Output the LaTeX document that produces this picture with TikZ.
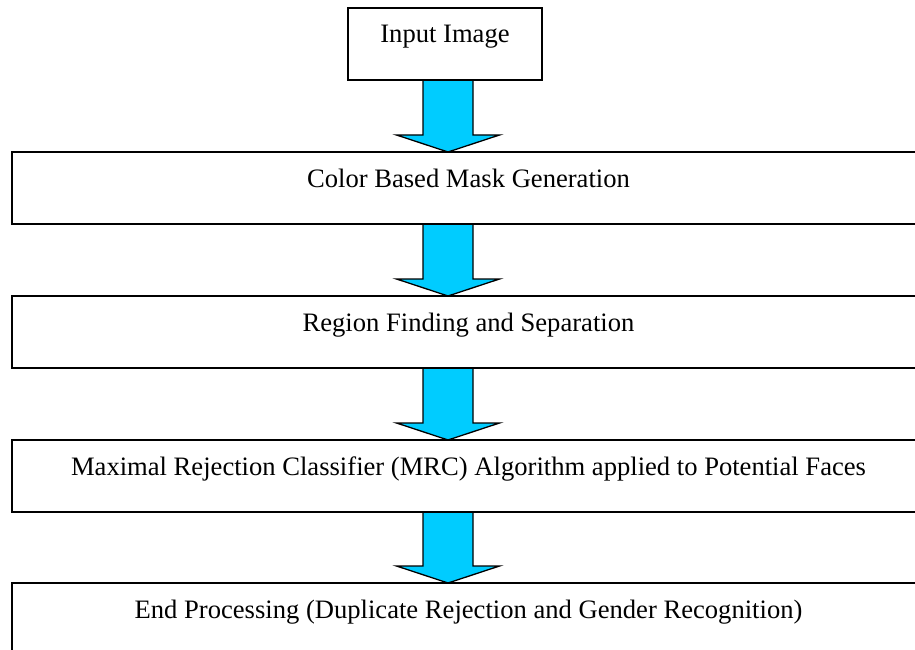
\documentclass[tikz,border=0pt]{standalone}
\usepackage{fontspec}
\setmainfont{Liberation Serif}
\usetikzlibrary{backgrounds,calc}
\definecolor{arrowfill}{HTML}{00CCFF}
\begin{document}
\begin{tikzpicture}[x=1pt,y=-1pt,
  stage/.style={draw, line width=2pt, outer sep=0pt, inner sep=0pt,
    minimum width=913pt, minimum height=72pt,
    text height=17pt, text depth=19pt,
    font=\fontsize{26.6pt}{30pt}\selectfont},
  flowarrow/.style={fill=arrowfill, draw=black, line width=1.3pt, line join=miter}]
\useasboundingbox (0,0) rectangle (915,650);
\clip (0,0) rectangle (915,650);

% processing stages, top to bottom
\node[stage, minimum width=194pt] (input) at (445,44) {Input Image};
\node[stage] (mask)   at (468.5,188) {Color Based Mask Generation};
\node[stage] (region) at (468.5,332) {Region Finding and Separation};
\node[stage] (mrc)    at (468.5,476) {Maximal Rejection Classifier (MRC) Algorithm applied to Potential Faces};
\node[stage] (final)  at (468.5,619) {End Processing (Duplicate Rejection and Gender Recognition)};

% vertical axis shared by the block arrows
\coordinate (axis) at (448,0);

% block arrows between consecutive stages, drawn under the box outlines
\begin{scope}[on background layer]
\foreach \a/\b in {input/mask, mask/region, region/mrc, mrc/final} {
  \draw[flowarrow]
    ($(\a.south -| axis)+(-25,0)$) -- ($(\b.north -| axis)+(-25,-17)$)
    -- ++(-26.5,0) -- (\b.north -| axis) -- ++(51.5,-17) -- ++(-26.5,0)
    -- ($(\a.south -| axis)+(25,0)$) -- cycle;
}
\end{scope}
\end{tikzpicture}
\end{document}
